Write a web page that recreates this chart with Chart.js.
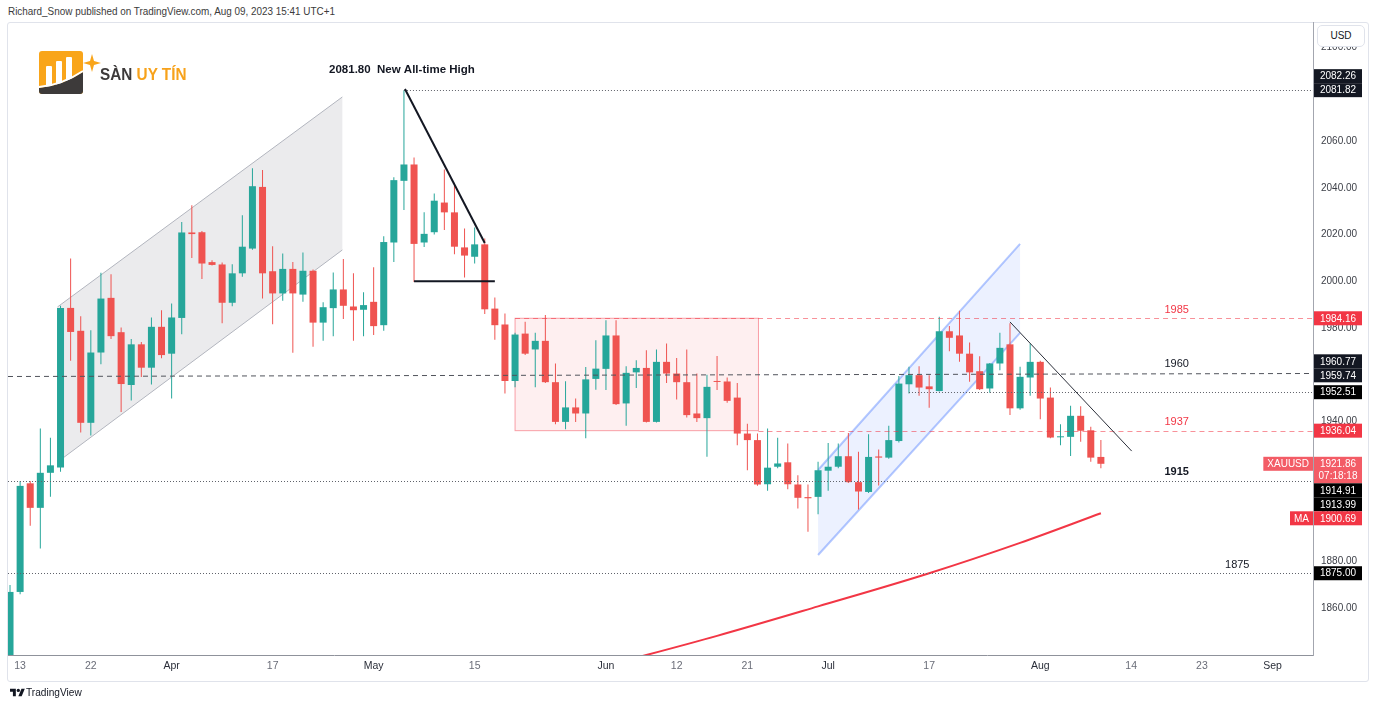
<!DOCTYPE html>
<html lang="en">
<head>
<meta charset="utf-8">
<title>XAUUSD daily</title>
<script src="https://cdn.jsdelivr.net/npm/chart.js"></script>
<style>
  html, body { margin: 0; padding: 0; background: #fff; }
  body { position: relative; width: 1377px; height: 707px; overflow: hidden; font-family: "Liberation Sans", Arial, sans-serif; color: #131722; }
  .abs { position: absolute; }
  #header { left: 8px; top: 5px; font: 11px "Liberation Sans", Arial, sans-serif; color: #3b3b3b; white-space: nowrap; transform: scaleX(0.9); transform-origin: 0 0; }
  #frame { left: 7px; top: 22px; width: 1362px; height: 660px; border: 1px solid #e0e3eb; border-radius: 3px; box-sizing: border-box; }
  #brand { left: 100px; top: 65px; font: bold 17px "Liberation Sans", Arial, sans-serif; white-space: nowrap; transform: scaleX(0.9); transform-origin: 0 0; }
  #usd { left: 1317px; top: 25px; width: 48px; height: 22px; border: 1px solid #e0e3eb; border-radius: 5px; background: #fff; box-sizing: border-box; font: 10px "Liberation Sans", Arial, sans-serif; line-height: 20px; text-align: center; }
  #footer { left: 26px; top: 686px; font: 11px "Liberation Sans", Arial, sans-serif; color: #131722; transform: scaleX(0.92); transform-origin: 0 0; }
</style>
</head>
<body>

<div id="header" class="abs">Richard_Snow published on TradingView.com, Aug 09, 2023 15:41 UTC+1</div>
<div id="frame" class="abs"></div>
<canvas id="chartCanvas" class="abs" style="left:0;top:0" width="1377" height="707"></canvas>

<!-- logo -->
<svg class="abs" style="left:38px;top:50px" width="64" height="46">
  <rect x="1" y="1" width="44" height="43" rx="3" fill="#f9a51a"/>
  <rect x="8" y="16" width="6" height="22" rx="1" fill="#fff"/>
  <rect x="18" y="11" width="6" height="25" rx="1" fill="#fff"/>
  <rect x="28" y="7" width="6" height="26" rx="1" fill="#fff"/>
  <path d="M1 38 Q24 36 45 22 L45 41 Q45 44 42 44 L4 44 Q1 44 1 41 Z" fill="#3d3a3a"/>
  <path d="M1 37 Q24 35 45 21" stroke="#fff" stroke-width="2" fill="none"/>
  <path d="M54 4 L56 11 L63 13 L56 15 L54 22 L52 15 L45 13 L52 11 Z" fill="#f9a51a"/>
</svg>
<div id="brand" class="abs"><span style="color:#3d3a3a">SÀN</span> <span style="color:#f7a21b">UY TÍN</span></div>
<div id="usd" class="abs">USD</div>

<svg class="abs" style="left:10px;top:687px" width="15" height="11" viewBox="0 0 36 26">
  <path d="M14 22H7V11H0V4h14v18z" fill="#131722"/>
  <path d="M28 22h-8l7.5-18h8L28 22z" fill="#131722"/>
  <circle cx="20" cy="8" r="4" fill="#131722"/>
</svg>
<div id="footer" class="abs">TradingView</div>

<script>
// daily XAUUSD, Mar 10 .. Aug 09 2023 (index 0 = Mar 10)
const open  = [1832,1867,1913.5,1903,1918,1920.3,1988.6,1978.8,1939.4,1969.5,1992.9,1978.2,1955.6,1973,1963,1980.5,1969,1984.3,2020.9,2021,
               2008.2,2007.2,1990.8,2003.4,2014,2040.4,2004.3,1994.8,2005.3,1994.3,2004.5,1982.3,1988.5,1996.5,1989.2,1987.8,1991.2,1981.2,2016.6,2043,
               2050,2016.6,2021,2033.7,2029.5,2014.5,2010.5,2015.8,1988.3,1981.5,1957.3,1977.6,1970.8,1974.5,1956.8,1939.8,1946,1943.4,1958.2,1962.5,
               1976.8,1947.7,1961,1962.9,1939.8,1965.5,1960.5,1956.8,1943.4,1941.4,1957.3,1957.1,1950.2,1934.8,1932,1913.1,1920.6,1922.5,1913,1907.6,
               1907.7,1918.9,1920.6,1925.1,1914,1909.8,1925,1924.5,1931.6,1955.9,1959.8,1955,1953,1978.6,1976.8,1969,1961.5,1954.1,1964.8,1973,
               1945.6,1958.8,1965.5,1950.2,1933.2,1933.4,1942.4,1936.2,1924.8];
const high  = [1870,1914.5,1914.5,1937,1933,1989.5,2009.8,1985,1979,2003.6,2003,1980.2,1975.3,1974,1984.5,1987.6,1990.5,2025.4,2032.6,2021.5,
               2009,2008,2007.3,2028.3,2048.4,2047.6,2015,2011.9,2008.2,2012.3,2005,1991,2003.8,2009.5,2003.4,1995.3,2006,2019.3,2044.5,2081.8,
               2053,2029.6,2037.6,2047.9,2041,2022.6,2023,2018.3,1993,1986.2,1978,1982.7,1978,1985.6,1964.8,1957.2,1949.8,1963.3,1974.8,1983.3,
               1983.3,1963.6,1966.2,1970.5,1970.8,1973.4,1967.2,1970.8,1960.5,1960,1968,1958.8,1956.5,1939,1934.8,1937,1933,1930.5,1917,1913,
               1922.7,1930.8,1930.5,1935,1927,1934.5,1928,1938.1,1959.4,1963.4,1963.6,1959.8,1984.8,1980.8,1987.4,1973.8,1967.9,1965,1978,1982,
               1963.4,1973.4,1966,1954.5,1938.8,1946.7,1946.5,1937.7,1932];
const low   = [1830,1866,1895.3,1885.6,1907.7,1918.4,1966,1935.3,1934,1964.5,1975.3,1944,1949,1959,1955.8,1967,1949.8,1977.3,2010,2001,
               2006.8,1982,1989.3,2001.9,2013.5,1992.6,1981.6,1991.7,1969.4,1991.2,1972,1974.5,1976.5,1983.8,1974.5,1976.5,1977,1978.8,2008.3,2030.5,
               1999.7,2014.7,2020,2021.9,2011.6,2001.6,2007.6,1986,1975,1952,1954.6,1968.4,1954.6,1956.4,1938.8,1936.7,1939.8,1932.8,1953.6,1953.4,
               1947,1938.1,1954.3,1939.5,1939.5,1956.5,1949.4,1941.7,1939.8,1924.9,1953.4,1948,1929.8,1919.1,1912.5,1910.3,1920,1911,1902.7,1892.8,
               1900.3,1910.3,1919.9,1913.6,1902.3,1909.4,1912.6,1924,1931,1952,1951,1945.8,1952.8,1970,1965.5,1957,1953.4,1952.3,1961.9,1942.7,
               1945,1951,1940.9,1932.8,1929.8,1925.2,1931.3,1922.7,1919.9];
const close = [1867,1912.4,1903,1918,1921.2,1988.6,1978.3,1939.4,1969.5,1992.6,1976.5,1956,1973,1963,1980.5,1968.4,1984.5,2020.9,2020.2,2007.6,
               2007,1990.8,2003.4,2014.8,2040.7,2003.4,1994.8,2005.3,1994.8,2004.5,1982.3,1988.9,1996.5,1989.5,1987.6,1989.8,1980.8,2016.8,2043.3,2050,
               2016,2020.3,2034.5,2029.5,2014.8,2011,2015.8,1988,1981.2,1957.3,1977.2,1969,1974.5,1956.8,1939.8,1946,1943.4,1958,1962.6,1976.8,
               1947.4,1960.8,1962.9,1939.8,1965.5,1960.5,1956.8,1942.7,1941.4,1954.8,1956.9,1948.8,1934.8,1932,1913,1920.2,1922,1913.1,1907.3,1907.1,
               1919.1,1920.6,1925.1,1914,1910,1924.8,1924.5,1932,1956.2,1959.8,1954.5,1953.8,1978.6,1975.8,1969,1961,1953.8,1964.8,1971.5,1945.6,
               1959.1,1965.5,1949.8,1933.1,1933.6,1942.4,1936,1924.5,1921.86];

// moving average, read at a few bars
const maIdx = [55, 63, 70, 80, 91, 100, 108];
const maVal = [1831, 1840, 1848.2, 1860.8, 1875, 1888, 1900.69];

const xTickIdx  = [1, 8, 16, 26, 36, 46, 59, 66, 73, 81, 91, 102, 111, 118, 125];
const xTickText = ['13','22','Apr','17','May','15','Jun','12','21','Jul','17','Aug','14','23','Sep'];
const yTicks = [1860,1880,1900,1920,1940,1960,1980,2000,2020,2040,2060,2080,2100];

const up = '#26a69a', down = '#ef5350', red = '#f23645', ink = '#131722';
const F = '"Liberation Sans", Arial, sans-serif';

// drawings, in (bar index, price)
const grayChannel = [[4.7, 1989.0], [32.9, 2078.9], [32.9, 2013.4], [4.7, 1922.6]];
const blueChannel = [[80, 1919.2], [100, 2016.0], [100, 1977.9], [80, 1882.8]];
const rangeBox = [[50, 1984.16], [74.1, 1936.04]];
const trendLines = [
  { a: [39.1, 2082.3], b: [47, 2016.4], color: ink, width: 2 },
  { a: [40, 2000], b: [48, 2000], color: ink, width: 2 },
  { a: [99, 1982.6], b: [111.05, 1927.3], color: '#2a2e39', width: 1 }
];
const levels = [
  { from: 39, v: 2081.82, color: '#60636b', dash: [1, 2] },
  { from: 50, v: 1984.16, color: 'rgba(242,54,69,0.55)', dash: [5, 4] },
  { from: -0.2, v: 1959.6, v2: 1960.77, color: '#50535b', dash: [5, 4] },
  { from: 89, v: 1952.51, color: '#60636b', dash: [1, 2] },
  { from: 74.1, v: 1936.04, color: 'rgba(242,54,69,0.55)', dash: [5, 4] },
  { from: -0.2, v: 1914.6, color: '#60636b', dash: [1, 2] },
  { from: -0.2, v: 1875, color: '#60636b', dash: [1, 2] }
];
const notes = [
  { t: '1985', i: 115.5, v: 1984.16, color: red, bold: false },
  { t: '1960', i: 115.5, v: 1960.77, color: ink, bold: false },
  { t: '1937', i: 115.5, v: 1936.04, color: red, bold: false },
  { t: '1915', i: 115.5, v: 1914.91, color: ink, bold: true },
  { t: '1875', i: 121.5, v: 1875, color: ink, bold: false }
];
const tags = [
  { v: 2081.82, bg: ink, fixed: true },
  { v: 1984.16, bg: red, fixed: true },
  { v: 1959.74, bg: ink, fixed: true },
  { v: 1952.51, bg: '#000', fixed: true },
  { v: 1936.04, bg: red, fixed: true },
  { v: 1921.86, bg: '#f35c66', fixed: true, sub: '07:18:18', name: 'XAUUSD' },
  { v: 1875.00, bg: '#000', fixed: true },
  { v: 2082.26, bg: ink },
  { v: 1960.77, bg: ink },
  { v: 1914.91, bg: '#000' },
  { v: 1913.99, bg: '#000' },
  { v: 1900.69, bg: red, name: 'MA' }
];

function poly(ctx, pts, fill, strokeColor, strokeWidth, edges) {
  ctx.beginPath();
  pts.forEach((p, k) => k ? ctx.lineTo(p[0], p[1]) : ctx.moveTo(p[0], p[1]));
  ctx.closePath();
  ctx.fillStyle = fill;
  ctx.fill();
  if (strokeColor) {
    ctx.strokeStyle = strokeColor;
    ctx.lineWidth = strokeWidth;
    edges.forEach(e => {
      ctx.beginPath();
      ctx.moveTo(pts[e[0]][0], pts[e[0]][1]);
      ctx.lineTo(pts[e[1]][0], pts[e[1]][1]);
      ctx.stroke();
    });
  }
}

const drawings = {
  id: 'drawings',
  beforeDatasetsDraw(chart) {
    const { ctx, chartArea: a, scales: { x, y } } = chart;
    const P = p => [x.getPixelForValue(p[0]), y.getPixelForValue(p[1])];
    ctx.save();
    ctx.beginPath();
    ctx.rect(a.left, a.top, a.right - a.left, a.bottom - a.top);
    ctx.clip();
    poly(ctx, grayChannel.map(P), 'rgba(120,123,134,0.15)', '#b2b5be', 1, [[0, 1], [3, 2]]);
    poly(ctx, blueChannel.map(P), 'rgba(41,98,255,0.09)', 'rgba(41,98,255,0.35)', 2, [[0, 1], [3, 2]]);
    const b0 = P(rangeBox[0]), b1 = P(rangeBox[1]);
    ctx.fillStyle = 'rgba(242,54,69,0.08)';
    ctx.fillRect(b0[0], b0[1], b1[0] - b0[0], b1[1] - b0[1]);
    ctx.strokeStyle = 'rgba(242,54,69,0.45)';
    ctx.lineWidth = 1;
    ctx.strokeRect(b0[0], b0[1], b1[0] - b0[0], b1[1] - b0[1]);
    ctx.restore();
  },
  afterDatasetsDraw(chart) {
    const { ctx, chartArea: a, scales: { x, y } } = chart;
    const P = p => [x.getPixelForValue(p[0]), y.getPixelForValue(p[1])];
    ctx.save();
    ctx.beginPath();
    ctx.rect(a.left, a.top, a.right - a.left, a.bottom - a.top);
    ctx.clip();

    levels.forEach(l => {
      ctx.beginPath();
      ctx.setLineDash(l.dash);
      ctx.strokeStyle = l.color;
      ctx.lineWidth = 1;
      ctx.moveTo(x.getPixelForValue(l.from), Math.round(y.getPixelForValue(l.v)) + 0.5);
      ctx.lineTo(a.right, Math.round(y.getPixelForValue(l.v2 || l.v)) + 0.5);
      ctx.stroke();
    });
    ctx.setLineDash([]);

    trendLines.forEach(t => {
      const p = P(t.a), q = P(t.b);
      ctx.beginPath();
      ctx.strokeStyle = t.color;
      ctx.lineWidth = t.width;
      ctx.moveTo(p[0], p[1]);
      ctx.lineTo(q[0], q[1]);
      ctx.stroke();
    });

    ctx.textAlign = 'center';
    ctx.textBaseline = 'bottom';
    notes.forEach(n => {
      ctx.font = (n.bold ? 'bold ' : '') + '11px ' + F;
      ctx.fillStyle = n.color;
      ctx.fillText(n.t, x.getPixelForValue(n.i), y.getPixelForValue(n.v) - 3);
    });
    ctx.font = 'bold 11.5px ' + F;
    ctx.fillStyle = ink;
    ctx.textBaseline = 'middle';
    ctx.fillText('2081.80  New All-time High', x.getPixelForValue(38.8), y.getPixelForValue(2090.4));
    ctx.restore();
  },
  afterDraw(chart) {
    const { ctx, chartArea: a, scales: { y } } = chart;
    const H = 14;
    const placed = [];
    tags.filter(t => t.fixed).forEach(t => {
      const c = y.getPixelForValue(t.v);
      placed.push({ t, top: c - H / 2, bot: c + H / 2 + (t.sub ? 12.5 : 0) });
    });
    tags.filter(t => !t.fixed).forEach(t => {
      const c = y.getPixelForValue(t.v);
      let top = c - H / 2, bot = c + H / 2, hit, guard = 0;
      while ((hit = placed.find(p => top < p.bot - 0.5 && bot > p.top + 0.5)) && guard++ < 20) {
        if (t.v > hit.t.v) { bot = hit.top; top = bot - H; }
        else { top = hit.bot; bot = top + H; }
      }
      placed.push({ t, top, bot });
    });
    ctx.save();
    ctx.textBaseline = 'middle';
    placed.forEach(p => {
      const t = p.t;
      ctx.fillStyle = t.bg;
      ctx.fillRect(a.right + 1, p.top, 48, p.bot - p.top);
      ctx.fillStyle = '#fff';
      ctx.font = '10px ' + F;
      ctx.textAlign = 'center';
      ctx.fillText(t.v.toFixed(2), a.right + 25, p.top + H / 2 + 0.5);
      if (t.sub) ctx.fillText(t.sub, a.right + 25, p.top + H / 2 + 12.5);
      if (t.name) {
        const w = ctx.measureText(t.name).width + 8;
        ctx.fillStyle = t.bg;
        ctx.fillRect(a.right - w, p.top, w, H);
        ctx.fillStyle = '#fff';
        ctx.fillText(t.name, a.right - w / 2, p.top + H / 2 + 0.5);
      }
    });
    ctx.restore();
  }
};

const candleColors = close.map((c, i) => c >= open[i] ? up : down);

const chart = new Chart(document.getElementById('chartCanvas').getContext('2d'), {
  type: 'bar',
  data: {
    datasets: [
      {
        label: 'body',
        data: open.map((o, i) => ({ x: i, y: [o, close[i]] })),
        backgroundColor: candleColors,
        borderWidth: 0,
        grouped: false,
        categoryPercentage: 1,
        barPercentage: 0.72,
        maxBarThickness: 7,
        minBarLength: 1,
        clip: 0
      },
      {
        label: 'wick',
        data: low.map((l, i) => ({ x: i, y: [l, high[i]] })),
        backgroundColor: candleColors,
        borderWidth: 0,
        grouped: false,
        categoryPercentage: 1,
        barPercentage: 0.1,
        maxBarThickness: 1,
        clip: 0
      },
      {
        type: 'line',
        label: 'MA',
        data: maIdx.map((i, k) => ({ x: i, y: maVal[k] })),
        borderColor: red,
        borderWidth: 2,
        pointRadius: 0,
        cubicInterpolationMode: 'monotone',
        clip: 0
      }
    ]
  },
  options: {
    responsive: false,
    animation: false,
    events: [],
    layout: { padding: { left: 8, top: 22, right: 9, bottom: 27 } },
    plugins: { legend: { display: false }, tooltip: { enabled: false } },
    scales: {
      x: {
        type: 'linear',
        offset: false,
        min: -0.2,
        max: 129,
        grid: { display: false, drawTicks: false },
        border: { display: true, color: '#8f929b' },
        afterFit: s => { s.height = 25; },
        afterBuildTicks: s => { s.ticks = xTickIdx.map(v => ({ value: v })); },
        ticks: {
          autoSkip: false,
          maxRotation: 0,
          padding: 5,
          callback: v => xTickText[xTickIdx.indexOf(v)],
          color: c => /[a-z]/i.test(xTickText[c.index] || '') ? '#2a2e39' : '#6a6d78',
          font: { family: F, size: 10.5 }
        }
      },
      y: {
        type: 'linear',
        position: 'right',
        min: 1840,
        max: 2111,
        grid: { display: false, drawTicks: false },
        border: { display: true, color: '#a3a6af' },
        afterFit: s => { s.width = 55; },
        afterBuildTicks: s => { s.ticks = yTicks.map(v => ({ value: v })); },
        ticks: {
          padding: 8,
          color: '#3b3e46',
          font: { family: F, size: 10 },
          callback: v => v.toFixed(2)
        }
      }
    }
  },
  plugins: [drawings]
});
</script>
</body>
</html>
